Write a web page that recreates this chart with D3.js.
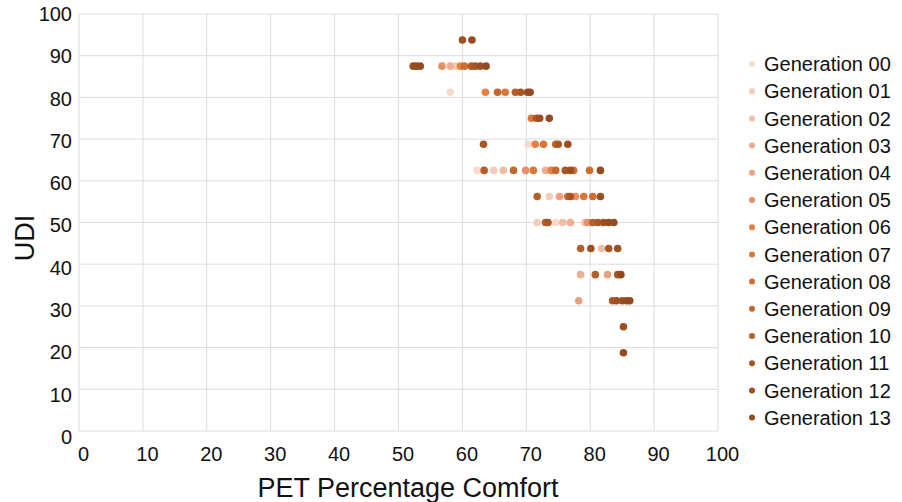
<!DOCTYPE html>
<html>
<head>
<meta charset="utf-8">
<script src="https://cdn.jsdelivr.net/npm/d3@7"></script>
<style>
  body { margin: 0; background: #fff; }
  text { font-family: "Liberation Sans", Arial, sans-serif; fill: #111; }
</style>
</head>
<body>
<div id="canvas"></div>
<script>
const canvas = d3.select("#canvas");

// data: one array of [PET, UDI] pairs per generation
const gen00 = [[58.1, 81.25], [62.3, 62.5], [70.3, 68.75], [74.6, 50]];
const gen01 = [[64.9, 62.5], [73.6, 56.25], [58.9, 87.5], [71.7, 50]];
const gen02 = [[66.4, 62.5], [75.7, 50], [81.8, 43.75], [79.2, 50]];
const gen03 = [[73.0, 62.5], [76.9, 50], [78.5, 37.5], [58.1, 87.5]];
const gen04 = [[82.7, 37.5], [78.2, 31.25], [75.2, 56.25]];
const gen05 = [[56.8, 87.5], [69.9, 62.5], [79.6, 50], [77.7, 56.25]];
const gen06 = [[59.7, 87.5], [63.6, 81.25], [71.4, 68.75], [73.9, 62.5]];
const gen07 = [[66.7, 81.25], [70.8, 75], [72.7, 68.75], [71.1, 62.5], [79.0, 56.25]];
const gen08 = [[77.4, 62.5], [79.9, 62.5], [80.4, 56.25], [60.3, 87.5]];
const gen09 = [[68.0, 62.5], [74.6, 62.5], [76.5, 56.25], [65.5, 81.25], [74.6, 68.75]];
const gen10 = [[63.4, 62.5], [71.7, 56.25], [73.0, 50], [68.3, 81.25], [61.4, 87.5],
  [80.4, 50], [78.5, 43.75], [80.8, 37.5]];
const gen11 = [[63.3, 68.75], [75.0, 68.75], [76.1, 62.5], [71.6, 75], [69.1, 81.25],
  [62.0, 87.5], [73.4, 50], [81.2, 50], [82.9, 43.75], [84.3, 37.5], [83.5, 31.25], [76.9, 56.25]];
const gen12 = [[60.0, 93.75], [52.3, 87.5], [62.8, 87.5], [72.1, 75], [70.2, 81.25],
  [76.9, 62.5], [81.6, 56.25], [82.1, 50], [84.3, 43.75], [84.1, 31.25], [85.0, 31.25],
  [85.2, 25], [80.1, 43.75], [76.5, 68.75]];
const gen13 = [[61.5, 93.75], [52.8, 87.5], [53.4, 87.5], [63.7, 87.5], [70.6, 81.25],
  [73.6, 75], [81.6, 62.5], [82.9, 50], [83.7, 50], [84.8, 37.5], [85.7, 31.25],
  [86.2, 31.25], [85.2, 18.75]];

const genNames = ["Generation 00", "Generation 01", "Generation 02", "Generation 03",
  "Generation 04", "Generation 05", "Generation 06", "Generation 07", "Generation 08",
  "Generation 09", "Generation 10", "Generation 11", "Generation 12", "Generation 13"];
const genColors = ["#f7dacd", "#f4ccbb", "#f0bda6", "#edae91", "#eba07e", "#e98f66",
  "#e8803f", "#db7637", "#cf6e32", "#c3672e", "#b55e2a", "#a95626", "#9e4f22", "#934a1f"];
const genData = [gen00, gen01, gen02, gen03, gen04, gen05, gen06, gen07, gen08,
  gen09, gen10, gen11, gen12, gen13];

const xTicks = [0, 10, 20, 30, 40, 50, 60, 70, 80, 90, 100];
const yTicks = [0, 10, 20, 30, 40, 50, 60, 70, 80, 90, 100];

const width = 902;
const height = 502;
const margin = { top: 14, left: 79, bottom: 71, right: 184 };
const iwidth = width - margin.left - margin.right;
const iheight = height - margin.top - margin.bottom;

const svg = canvas.append("svg").attr("width", width).attr("height", height);

const g = svg.append("g")
  .attr("transform", `translate(${margin.left},${margin.top})`);

const x = d3.scaleLinear().domain([0, 100]).range([0, iwidth]);
const y = d3.scaleLinear().domain([0, 100]).range([iheight, 0]);

// grid
g.append("g")
  .selectAll("line.vg")
  .data(xTicks)
  .join("line")
  .attr("x1", (d) => x(d)).attr("x2", (d) => x(d))
  .attr("y1", 0).attr("y2", iheight)
  .attr("stroke", "#dcdcdc").attr("stroke-width", 1);

g.append("g")
  .selectAll("line.hg")
  .data(yTicks)
  .join("line")
  .attr("y1", (d) => y(d)).attr("y2", (d) => y(d))
  .attr("x1", 0).attr("x2", iwidth)
  .attr("stroke", "#dcdcdc").attr("stroke-width", 1);

// axes (labels only, lines come from the grid)
const xAxis = g.append("g")
  .attr("transform", `translate(0, ${iheight})`)
  .call(d3.axisBottom(x).tickValues(xTicks).tickSize(0).tickPadding(16));
xAxis.select(".domain").remove();
xAxis.selectAll("text")
  .attr("dx", 4)
  .style("font-size", "20px")
  .style("font-family", "Liberation Sans, Arial, sans-serif")
  .attr("fill", "#111");

const yAxis = g.append("g")
  .call(d3.axisLeft(y).tickValues(yTicks).tickSize(0).tickPadding(7));
yAxis.select(".domain").remove();
yAxis.selectAll("text")
  .attr("dy", (d) => 0.32 + 0.3 * (1 - d / 100) + "em")
  .style("font-size", "20px")
  .style("font-family", "Liberation Sans, Arial, sans-serif")
  .attr("fill", "#111");

// points
genData.forEach((pts, i) => {
  g.append("g")
    .selectAll("circle")
    .data(pts)
    .join("circle")
    .attr("cx", (d) => x(d[0]))
    .attr("cy", (d) => y(d[1]))
    .attr("r", 3.8)
    .attr("fill", genColors[i]);
});

// axis titles
svg.append("text")
  .attr("x", 408)
  .attr("y", 497)
  .attr("text-anchor", "middle")
  .style("font-size", "27px")
  .text("PET Percentage Comfort");

svg.append("text")
  .attr("transform", "translate(34, 238) rotate(-90)")
  .attr("text-anchor", "middle")
  .style("font-size", "27px")
  .text("UDI");

// legend
const legend = svg.append("g").attr("transform", "translate(752, 64)");
const items = legend.selectAll("g")
  .data(genNames)
  .join("g")
  .attr("transform", (d, i) => `translate(0, ${i * 27.2})`);
items.append("circle")
  .attr("r", 3)
  .attr("fill", (d, i) => genColors[i]);
items.append("text")
  .attr("x", 12)
  .attr("dy", "0.36em")
  .style("font-size", "20px")
  .text((d) => d);
</script>
</body>
</html>
